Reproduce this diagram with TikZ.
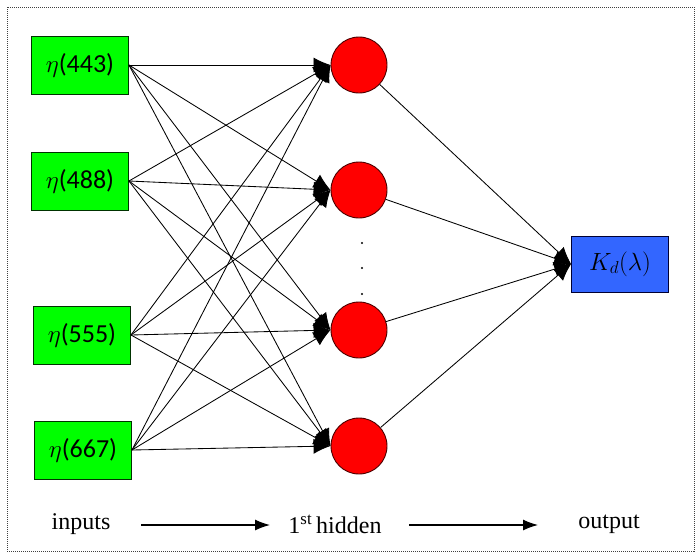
\documentclass[tikz,border=0pt]{standalone}
\usepackage{fontspec}
\setmainfont{Liberation Serif}
\newfontfamily\carlito{Carlito}
\usetikzlibrary{arrows.meta}
\definecolor{ingreen}{RGB}{0,255,0}
\definecolor{hidred}{RGB}{255,0,0}
\definecolor{outblue}{RGB}{51,102,255}
\tikzset{
  inbox/.style={draw=black!80!green, line width=0.9pt, fill=ingreen, minimum width=97pt, minimum height=58pt, inner sep=0pt, font=\fontsize{26}{30}\selectfont},
  hid/.style={circle, draw=black!70!red, line width=0.9pt, fill=hidred, minimum size=56pt, inner sep=0pt},
  outbox/.style={draw=black!80!blue, line width=0.9pt, fill=outblue, minimum width=97pt, minimum height=56pt, inner sep=0pt, font=\fontsize{26}{30}\selectfont},
  conn/.style={line width=0.85pt, -{Latex[length=17pt,width=15pt]}},
  lbl/.style={font=\fontsize{24}{28}\selectfont, inner sep=0pt},
  flow/.style={line width=1.2pt, -{Latex[length=15pt,width=11pt]}},
  dotn/.style={circle, fill=black, inner sep=0pt, minimum size=2.2pt}
}
\begin{document}
\begin{tikzpicture}[x=1pt,y=-1pt]
\useasboundingbox (0,0) rectangle (700,557);
\draw[densely dotted, line width=1pt, black!75] (7,7) rectangle (694,551);
% inputs
\node[inbox] (i1) at (80,65) {$\eta${\carlito(443)}};
\node[inbox] (i2) at (80,181) {$\eta${\carlito(488)}};
\node[inbox] (i3) at (82,335) {$\eta${\carlito(555)}};
\node[inbox] (i4) at (83,450) {$\eta${\carlito(667)}};
% hidden
\node[hid] (h1) at (359,65) {};
\node[hid] (h2) at (359,190) {};
\node[hid] (h3) at (359,330) {};
\node[hid] (h4) at (359,446) {};
% output
\node[outbox] (o) at (620,264) {$K_d(\lambda)$};
% dots
\node[dotn] (d1) at (362,243) {};
\node[dotn] (d2) at (362,268) {};
\node[dotn] (d3) at (362,294) {};
% connections
\foreach \i in {1,2,3,4}{
  \foreach \h in {1,2,3,4}{
    \draw[conn] (i\i.east) -- (h\h.west);
  }
  \draw[conn] (h\i) -- (o.west);
}
% bottom labels
\node[lbl] (t1) at (81,524) {inputs};
\node[lbl] (t2) at (335,524) {1\textsuperscript{st}\,hidden};
\node[lbl] (t3) at (609,524) {output};
\coordinate (a1a) at (141,525);
\coordinate (a1b) at (270,525);
\coordinate (a2a) at (409,525);
\coordinate (a2b) at (538,525);
\draw[flow] (a1a) -- (a1b);
\draw[flow] (a2a) -- (a2b);
\end{tikzpicture}
\end{document}
